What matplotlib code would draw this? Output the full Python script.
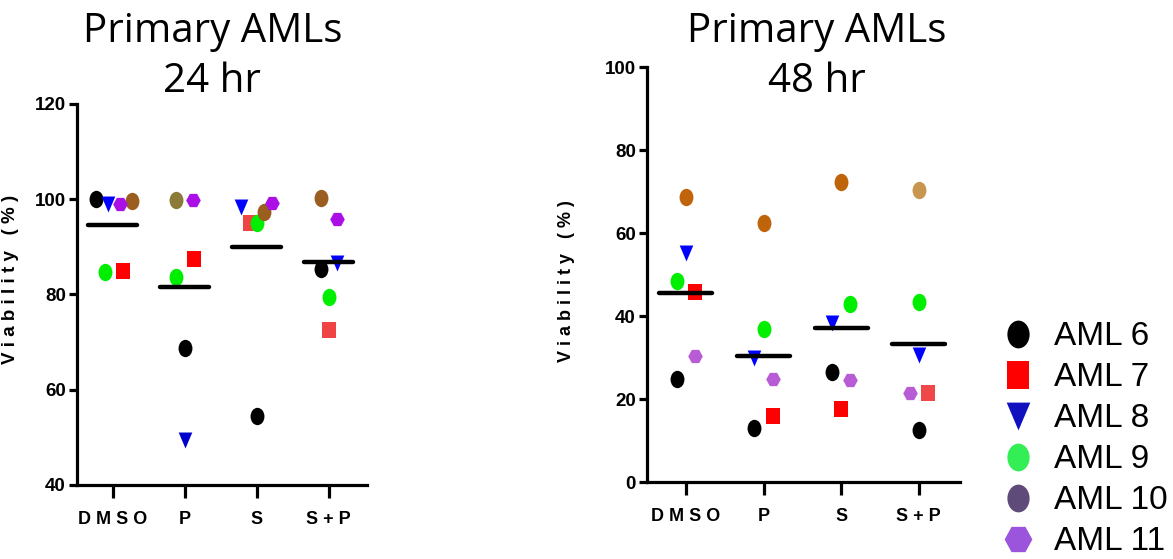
import numpy as np
import matplotlib
matplotlib.use('Agg')
import matplotlib.pyplot as plt
from matplotlib.path import Path
from matplotlib.lines import Line2D

plt.rcParams['font.family'] = ['Liberation Sans', 'DejaVu Sans']

groups = ['DMSO', 'P', 'S', 'S+P']
samples = ['AML 6', 'AML 7', 'AML 8', 'AML 9', 'AML 10', 'AML 11']

# viability (%) per sample, columns = DMSO, P, S, S+P
via_24 = {
    'AML 6': [100.0, 68.8, 54.5, 85.4],
    'AML 7': [85.0, 87.5, 95.0, 72.6],
    'AML 8': [99.0, 49.4, 98.4, 86.6],
    'AML 9': [84.7, 83.7, 95.0, 79.5],
    'AML 10': [99.7, 99.9, 97.4, 100.3],
    'AML 11': [99.0, 99.9, 99.2, 95.9],
}
via_48 = {
    'AML 6': [24.8, 13.0, 26.5, 12.5],
    'AML 7': [45.8, 15.9, 17.6, 21.4],
    'AML 8': [55.2, 29.9, 38.3, 30.6],
    'AML 9': [48.4, 36.9, 42.9, 43.4],
    'AML 10': [68.7, 62.4, 72.3, 70.4],
    'AML 11': [30.4, 24.8, 24.6, 21.4],
}

# horizontal scatter of the points inside each column (category units)
jit_24 = {
    'AML 6': [-0.24, 0.0, 0.0, -0.11],
    'AML 7': [0.14, 0.12, -0.10, 0.0],
    'AML 8': [-0.07, 0.0, -0.22, 0.12],
    'AML 9': [-0.11, -0.12, 0.0, 0.0],
    'AML 10': [0.26, -0.12, 0.10, -0.11],
    'AML 11': [0.10, 0.11, 0.21, 0.12],
}
jit_48 = {
    'AML 6': [-0.12, -0.12, -0.12, 0.0],
    'AML 7': [0.12, 0.12, 0.0, 0.12],
    'AML 8': [0.0, -0.12, -0.12, 0.0],
    'AML 9': [-0.12, 0.0, 0.12, 0.0],
    'AML 10': [0.0, 0.0, 0.0, 0.0],
    'AML 11': [0.12, 0.12, 0.12, -0.12],
}


# markers, a bit taller than wide like in the original
def stretched(verts, codes=None):
    return Path(np.asarray(verts) * [0.8, 1.0], codes)


circ = Path.unit_circle()
ellipse = Path(circ.vertices * [0.8, 1.0], circ.codes)
square = stretched([[-1, -1], [1, -1], [1, 1], [-1, 1], [-1, -1]],
                   [Path.MOVETO, Path.LINETO, Path.LINETO, Path.LINETO, Path.CLOSEPOLY])
tri_down = Path(np.array([[-0.85, 1], [0.85, 1], [0, -1], [-0.85, 1]]),
                [Path.MOVETO, Path.LINETO, Path.LINETO, Path.CLOSEPOLY])
ang = np.deg2rad(np.arange(0, 360, 60))
hexv = np.c_[np.cos(ang) * 0.95, np.sin(ang) * 1.0]
hexagon = Path(np.vstack([hexv, hexv[:1]]),
               [Path.MOVETO] + [Path.LINETO] * 5 + [Path.CLOSEPOLY])

markers = {'AML 6': ellipse, 'AML 7': square, 'AML 8': tri_down,
           'AML 9': ellipse, 'AML 10': ellipse, 'AML 11': hexagon}
msizes = {'AML 6': 12.5, 'AML 7': 12, 'AML 8': 11.5,
          'AML 9': 12.5, 'AML 10': 12.5, 'AML 11': 10.5}

cols_24 = {
    'AML 6': ['black'] * 4,
    'AML 7': ['#ff0000', '#ff0000', '#f04444', '#f04444'],
    'AML 8': ['#0000ff', '#0000cc', '#0000ff', '#0000ff'],
    'AML 9': ['#00ee00'] * 4,
    'AML 10': ['#9a5f20', '#8b7a38', '#9a5f20', '#9a5f20'],
    'AML 11': ['#aa10e6'] * 4,
}
cols_48 = {
    'AML 6': ['black'] * 4,
    'AML 7': ['#ff0000', '#ff0000', '#ff0000', '#f04848'],
    'AML 8': ['#0000ff'] * 4,
    'AML 9': ['#00ee00'] * 4,
    'AML 10': ['#c0640c', '#c0640c', '#c0640c', '#c8964f'],
    'AML 11': ['#b85cd6'] * 4,
}

fig = plt.figure(figsize=(11.73, 5.59), dpi=100)
ax1 = fig.add_axes([0.0656, 0.1324, 0.2472, 0.6816])
ax2 = fig.add_axes([0.5516, 0.1377, 0.2668, 0.7424])

xpos = np.arange(len(groups))


def draw(ax, data, jit, cols, ylim, yticks, lab_xy, lab_size):
    for s in samples:
        for i in range(len(groups)):
            ax.plot(xpos[i] + jit[s][i], data[s][i], linestyle='none',
                    marker=markers[s], markersize=msizes[s],
                    color=cols[s][i], markeredgewidth=0, clip_on=False, zorder=3)
    means = np.mean([data[s] for s in samples], axis=0)
    for i, m in enumerate(means):
        ax.plot([xpos[i] - 0.34, xpos[i] + 0.34], [m, m], color='black',
                lw=3.2, solid_capstyle='round', zorder=4)
    ax.set_xlim(-0.5, 3.53)
    ax.set_ylim(*ylim)
    ax.set_yticks(yticks)
    ax.set_yticklabels([str(v) for v in yticks], fontweight='bold', fontsize=13.5)
    ax.set_xticks(xpos)
    ax.set_xticklabels(['D M S O', 'P', 'S', 'S + P'], fontweight='bold', fontsize=13)
    for side in ['top', 'right']:
        ax.spines[side].set_visible(False)
    for side in ['left', 'bottom']:
        ax.spines[side].set_linewidth(2.3)
    ax.tick_params(axis='both', direction='out', width=2.3, colors='black')
    ax.tick_params(axis='y', length=6, pad=2)
    ax.tick_params(axis='x', length=9, pad=10)
    ax.set_ylabel('V i a b i l i t y   ( % )', fontweight='bold', fontsize=lab_size)
    ax.yaxis.set_label_coords(*lab_xy)


draw(ax1, via_24, jit_24, cols_24, (40, 120), [40, 60, 80, 100, 120],
     (-0.2, 0.54), 13.5)
draw(ax2, via_48, jit_48, cols_48, (0, 100), [0, 20, 40, 60, 80, 100],
     (-0.23, 0.485), 13)

# titles
tfont = dict(family=['Open Sans', 'DejaVu Sans'], fontsize=29, ha='center', va='baseline')
fig.text(0.181, 0.925, 'Primary AMLs', **tfont)
fig.text(0.181, 0.835, '24 hr', **tfont)
fig.text(0.696, 0.925, 'Primary AMLs', **tfont)
fig.text(0.696, 0.835, '48 hr', **tfont)

# legend
leg_cols = ['black', '#ff0000', '#1010c0', '#33ee55', '#5f4b7a', '#9b55dd']
handles = [Line2D([], [], linestyle='none', marker=markers[s], markersize=20,
                  color=c, markeredgewidth=0) for s, c in zip(samples, leg_cols)]
fig.legend(handles, samples, loc='upper left', bbox_to_anchor=(0.854, 0.425),
           frameon=False, fontsize=24, handlelength=1.0, handletextpad=0.56,
           borderpad=0, borderaxespad=0, labelspacing=0.3)

fig.savefig('out.png', dpi=100)
